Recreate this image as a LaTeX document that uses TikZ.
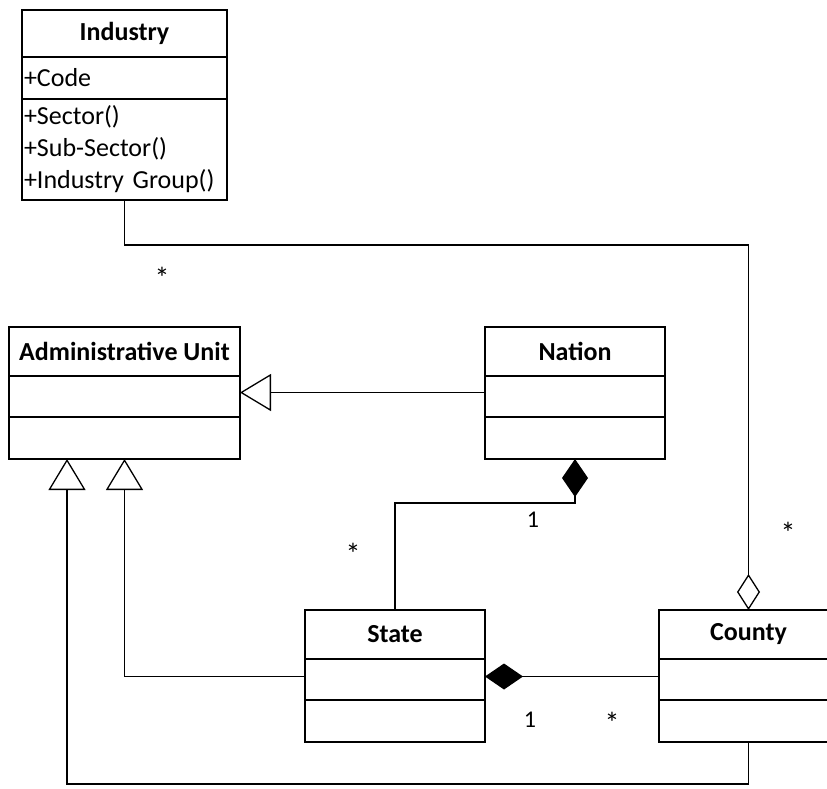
\documentclass[tikz,border=0pt]{standalone}
\usepackage{fontspec}
\setmainfont{Carlito}
\usetikzlibrary{positioning,arrows.meta}

\begin{document}
\begin{tikzpicture}[x=1pt, y=-1pt, line width=1.3pt,
  every node/.style={draw, inner sep=2pt, outer sep=0pt, font=\fontsize{26}{32}\selectfont},
  classname/.style={font=\fontsize{26}{32}\selectfont\bfseries, minimum height=49pt},
  members/.style={minimum height=41pt, text width=#1, align=left},
  mult/.style={draw=none, font=\fontsize{24}{24}\selectfont},
  gen/.style={-{Triangle[open, length=31pt, width=37pt]}},
  comp/.style={-{Diamond[length=38pt, width=26pt]}},
  aggr/.style={-{Diamond[open, length=36pt, width=23pt]}}]

  \useasboundingbox (0,0) rectangle (827,788);

  % Industry class
  \node[classname, minimum width=205pt, minimum height=47pt, anchor=north west] (industry) at (22,10) {Industry};
  \node[members=201pt, minimum height=42pt, below=0pt of industry] (industry-attr) {+Code};
  \node[members=201pt, minimum height=101pt, below=0pt of industry-attr] (industry-ops) {+Sector()\\+Sub-Sector()\\+Industry Group()};

  % Administrative Unit class
  \node[classname, minimum width=231pt, anchor=north west] (adm) at (9,327) {Administrative Unit};
  \node[members=227pt, below=0pt of adm] (adm-attr) {};
  \node[members=227pt, minimum height=42pt, below=0pt of adm-attr] (adm-ops) {};

  % Nation class
  \node[classname, minimum width=180pt, anchor=north west] (nation) at (485,327) {Nation};
  \node[members=176pt, below=0pt of nation] (nation-attr) {};
  \node[members=176pt, minimum height=42pt, below=0pt of nation-attr] (nation-ops) {};

  % State class
  \node[classname, minimum width=180pt, anchor=north west] (state) at (305,610) {State};
  \node[members=176pt, below=0pt of state] (state-attr) {};
  \node[members=176pt, minimum height=42pt, below=0pt of state-attr] (state-ops) {};

  % County class
  \node[classname, minimum width=179pt, anchor=north west] (county) at (659,610) {County};
  \node[members=175pt, below=0pt of county] (county-attr) {};
  \node[members=175pt, minimum height=42pt, below=0pt of county-attr] (county-ops) {};

  % Generalizations
  \draw[gen] ([yshift=4pt]nation-attr.west) -- ([yshift=4pt]adm-attr.east);
  \draw[gen] ([yshift=3pt]state-attr.west) -| (adm-ops.south);
  \draw[gen] (county-ops.south) -- ++(0,42) -| ([xshift=-57.5pt]adm-ops.south);

  % Compositions
  \draw[comp] (state.north) -- ++(0,-107) -| (nation-ops.south);
  \draw[comp] ([yshift=3pt]county-attr.west) -- ([yshift=3pt]state-attr.east);

  % Aggregation
  \draw[aggr] (industry-ops.south) -- ++(0,45) -| (county.north);

  % Multiplicities
  \node[mult, font=\fontsize{30}{30}\selectfont] (m1) at (162,278) {*};
  \node[mult, font=\fontsize{30}{30}\selectfont] (m2) at (788,533) {*};
  \node[mult, font=\fontsize{30}{30}\selectfont] (m3) at (353,554) {*};
  \node[mult, font=\fontsize{30}{30}\selectfont] (m4) at (612,723) {*};
  \node[mult] (m5) at (533,520) {1};
  \node[mult] (m6) at (530,720) {1};
\end{tikzpicture}
\end{document}
